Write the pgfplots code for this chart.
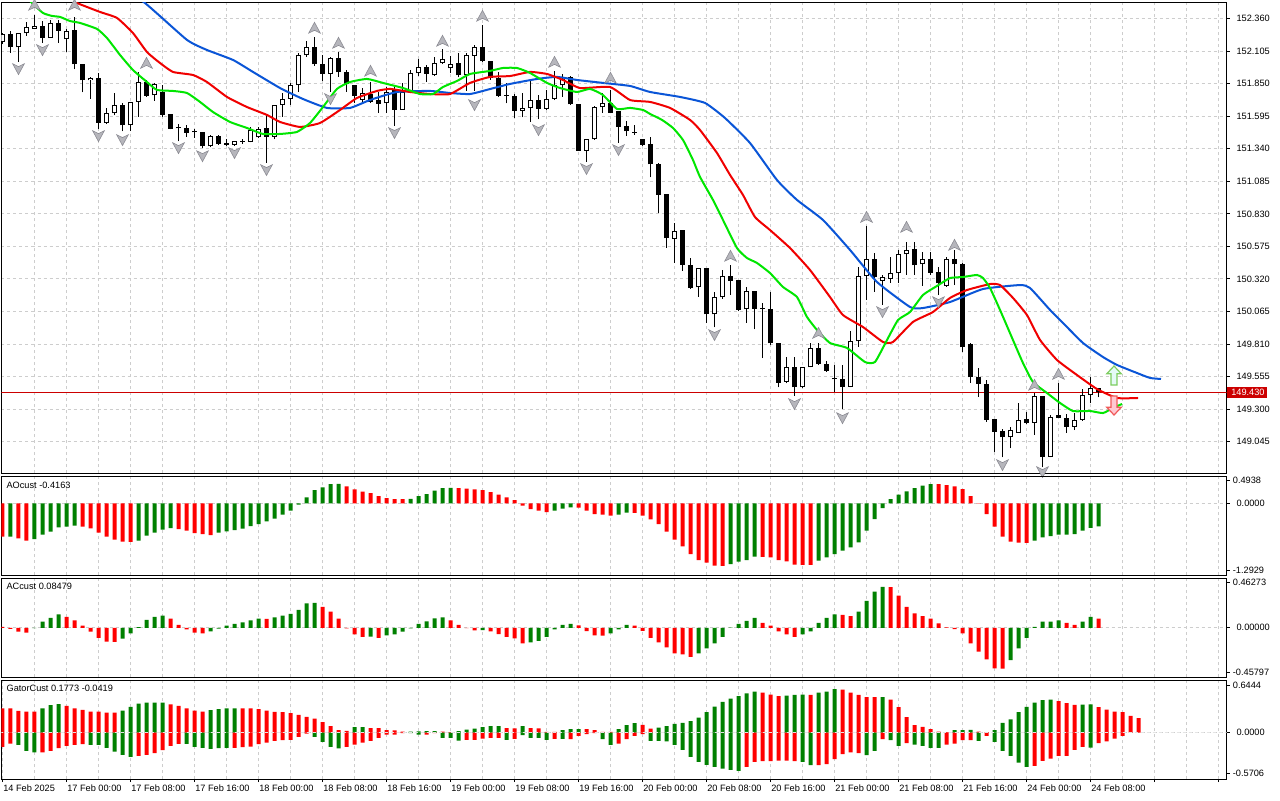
\documentclass[border=0pt]{standalone}
\usepackage{fontspec}
\setmainfont{Liberation Sans}
\usepackage{pgfplots}
\usepackage{pgfplotstable}
\pgfplotsset{compat=1.18}
\definecolor{gridc}{RGB}{205,205,205}
\definecolor{aogreen}{RGB}{0,128,0}
\definecolor{aored}{RGB}{255,0,0}
\definecolor{jawc}{RGB}{10,85,215}
\definecolor{teethc}{RGB}{240,0,0}
\definecolor{lipsc}{RGB}{0,230,0}
\definecolor{pricered}{RGB}{204,0,0}
\definecolor{fractfill}{RGB}{182,182,188}
\definecolor{fractdraw}{RGB}{140,140,148}
\newcommand{\lab}{\fontsize{4.6pt}{5.5pt}\selectfont}

\pgfdeclareplotmark{fracup}{%
  \pgfpathmoveto{\pgfqpoint{0pt}{2.8pt}}%
  \pgfpathlineto{\pgfqpoint{2.9pt}{-2.6pt}}%
  \pgfpathlineto{\pgfqpoint{0pt}{-1.2pt}}%
  \pgfpathlineto{\pgfqpoint{-2.9pt}{-2.6pt}}%
  \pgfpathclose\pgfusepathqfillstroke}
\pgfdeclareplotmark{fracdown}{%
  \pgfpathmoveto{\pgfqpoint{0pt}{-2.8pt}}%
  \pgfpathlineto{\pgfqpoint{2.9pt}{2.6pt}}%
  \pgfpathlineto{\pgfqpoint{0pt}{1.2pt}}%
  \pgfpathlineto{\pgfqpoint{-2.9pt}{2.6pt}}%
  \pgfpathclose\pgfusepathqfillstroke}
\pgfdeclareplotmark{bigup}{%
  \pgfpathmoveto{\pgfqpoint{0pt}{4.75pt}}%
  \pgfpathlineto{\pgfqpoint{3.6pt}{0.9pt}}%
  \pgfpathlineto{\pgfqpoint{1.5pt}{0.9pt}}%
  \pgfpathlineto{\pgfqpoint{1.5pt}{-4.75pt}}%
  \pgfpathlineto{\pgfqpoint{-1.5pt}{-4.75pt}}%
  \pgfpathlineto{\pgfqpoint{-1.5pt}{0.9pt}}%
  \pgfpathlineto{\pgfqpoint{-3.6pt}{0.9pt}}%
  \pgfpathclose\pgfusepathqfillstroke}
\pgfdeclareplotmark{bigdown}{%
  \pgfpathmoveto{\pgfqpoint{0pt}{-4.75pt}}%
  \pgfpathlineto{\pgfqpoint{3.6pt}{-0.9pt}}%
  \pgfpathlineto{\pgfqpoint{1.5pt}{-0.9pt}}%
  \pgfpathlineto{\pgfqpoint{1.5pt}{4.75pt}}%
  \pgfpathlineto{\pgfqpoint{-1.5pt}{4.75pt}}%
  \pgfpathlineto{\pgfqpoint{-1.5pt}{-0.9pt}}%
  \pgfpathlineto{\pgfqpoint{-3.6pt}{-0.9pt}}%
  \pgfpathclose\pgfusepathqfillstroke}

\pgfplotstableread{
i o h l c
0 152.174 152.250 152.160 152.237
1 152.240 152.266 152.093 152.135
2 152.135 152.245 152.023 152.245
3 152.245 152.334 152.224 152.292
4 152.281 152.388 152.276 152.302
5 152.302 152.344 152.172 152.206
6 152.206 152.349 152.206 152.323
7 152.323 152.349 152.172 152.266
8 152.198 152.281 152.101 152.266
9 152.271 152.370 151.963 152.002
10 152.004 152.004 151.782 151.876
11 151.876 151.905 151.733 151.895
12 151.895 151.937 151.498 151.545
13 151.545 151.657 151.534 151.618
14 151.618 151.775 151.602 151.681
15 151.681 151.701 151.477 151.524
16 151.524 151.707 151.482 151.707
17 151.707 151.942 151.592 151.863
18 151.863 151.879 151.748 151.756
19 151.759 151.853 151.717 151.848
20 151.785 151.837 151.592 151.605
21 151.613 151.613 151.492 151.498
22 151.504 151.534 151.398 151.500
23 151.503 151.529 151.435 151.466
24 151.472 151.492 151.427 151.469
25 151.471 151.471 151.346 151.359
26 151.359 151.445 151.351 151.440
27 151.440 151.448 151.372 151.377
28 151.383 151.419 151.364 151.372
29 151.372 151.398 151.364 151.398
30 151.396 151.414 151.380 151.398
31 151.396 151.508 151.391 151.487
32 151.430 151.513 151.422 151.498
33 151.503 151.607 151.231 151.435
34 151.435 151.683 151.414 151.681
35 151.681 151.775 151.592 151.733
36 151.733 151.853 151.681 151.837
37 151.837 152.088 151.788 152.072
38 152.072 152.187 152.062 152.140
39 152.140 152.213 151.989 152.002
40 152.002 152.075 151.871 151.929
41 151.929 152.062 151.788 152.049
42 152.049 152.101 151.905 151.939
43 151.939 151.957 151.788 151.848
44 151.837 151.837 151.701 151.754
45 151.722 151.814 151.696 151.780
46 151.769 151.866 151.701 151.709
47 151.722 151.788 151.623 151.691
48 151.696 151.822 151.623 151.785
49 151.801 151.822 151.519 151.644
50 151.644 151.858 151.644 151.785
51 151.785 151.957 151.775 151.931
52 151.931 152.041 151.910 151.978
53 151.978 151.994 151.866 151.926
54 151.916 152.062 151.910 152.010
55 152.010 152.119 152.004 152.041
56 151.970 152.067 151.937 152.002
57 152.010 152.088 151.900 151.916
58 151.916 152.088 151.795 152.072
59 152.067 152.151 151.795 152.135
60 152.135 152.307 152.020 152.025
61 152.025 152.025 151.879 151.892
62 151.892 151.944 151.748 151.754
63 151.757 151.853 151.696 151.754
64 151.754 151.767 151.584 151.636
65 151.636 151.780 151.586 151.657
66 151.657 151.871 151.553 151.722
67 151.722 151.764 151.571 151.652
68 151.652 151.801 151.644 151.730
69 151.730 151.952 151.722 151.837
70 151.837 151.926 151.748 151.889
71 151.900 151.910 151.683 151.688
72 151.688 151.688 151.325 151.325
73 151.325 151.414 151.239 151.414
74 151.414 151.675 151.409 151.665
75 151.665 151.780 151.623 151.701
76 151.701 151.801 151.618 151.623
77 151.639 151.639 151.388 151.513
78 151.519 151.560 151.440 151.477
79 151.468 151.526 151.448 151.466
80 151.414 151.414 151.364 151.372
81 151.378 151.435 151.116 151.218
82 151.221 151.231 150.834 150.980
83 150.986 150.986 150.565 150.638
84 150.633 150.761 150.447 150.698
85 150.703 150.703 150.385 150.432
86 150.427 150.481 150.244 150.252
87 150.254 150.403 150.181 150.403
88 150.406 150.406 149.977 150.043
89 150.043 150.220 149.941 150.176
90 150.176 150.390 150.163 150.343
91 150.343 150.427 150.197 150.306
92 150.312 150.312 150.066 150.077
93 150.082 150.254 149.977 150.223
94 150.223 150.228 149.925 150.087
95 150.088 150.134 149.700 150.085
96 150.082 150.215 149.800 149.815
97 149.815 149.815 149.470 149.507
98 149.515 149.706 149.502 149.633
99 149.633 149.706 149.403 149.470
100 149.470 149.633 149.463 149.627
101 149.627 149.821 149.627 149.776
102 149.776 149.821 149.646 149.653
103 149.653 149.679 149.593 149.601
104 149.534 149.646 149.437 149.532
105 149.533 149.646 149.298 149.476
106 149.476 149.909 149.470 149.831
107 149.831 150.416 149.789 150.343
108 150.343 150.735 150.155 150.474
109 150.474 150.526 150.220 150.338
110 150.306 150.348 150.116 150.338
111 150.322 150.489 150.291 150.364
112 150.364 150.547 150.291 150.513
113 150.513 150.612 150.351 150.547
114 150.552 150.612 150.351 150.427
115 150.434 150.534 150.265 150.474
116 150.474 150.534 150.351 150.369
117 150.374 150.416 150.194 150.286
118 150.265 150.489 150.259 150.474
119 150.474 150.547 150.272 150.434
120 150.437 150.442 149.750 149.784
121 149.810 149.815 149.507 149.549
122 149.549 149.619 149.397 149.497
123 149.497 149.528 149.201 149.214
124 149.220 149.220 148.966 149.123
125 149.128 149.141 148.922 149.079
126 149.079 149.162 148.992 149.136
127 149.115 149.345 149.115 149.214
128 149.222 149.280 149.183 149.194
129 149.194 149.429 149.097 149.403
130 149.403 149.403 148.843 148.927
131 148.927 149.254 148.922 149.241
132 149.254 149.502 149.228 149.233
133 149.228 149.259 149.115 149.162
134 149.162 149.267 149.136 149.214
135 149.214 149.455 149.209 149.410
136 149.410 149.549 149.345 149.468
137 149.463 149.463 149.392 149.430
}\candles

\pgfplotstableread{
i p
13.44 152.663
17.81 152.482
23.06 152.193
25.56 152.114
28.81 152.036
31.31 151.942
34.69 151.816
37.56 151.730
40.56 151.660
43.44 151.660
45.94 151.722
49.31 151.785
53.44 151.793
55.94 151.777
58.44 151.769
60.94 151.808
63.44 151.848
66.81 151.887
69.31 151.903
71.81 151.879
75.06 151.856
78.44 151.832
80.94 151.785
84.69 151.746
87.81 151.699
90.31 151.581
93.44 151.385
96.81 151.095
99.31 150.939
102.56 150.782
105.94 150.547
109.31 150.296
113.44 150.100
115.06 150.092
118.44 150.139
122.56 150.241
127.19 150.272
128.44 150.249
130.94 150.077
132.56 149.975
135.06 149.818
137.56 149.708
139.31 149.646
141.80 149.583
143.44 149.544
144.81 149.536
}\jaw

\pgfplotstableread{
i p
7.19 152.545
9.31 152.482
12.19 152.412
14.31 152.365
16.31 152.247
18.06 152.098
19.69 152.012
21.31 151.942
23.81 151.918
25.56 151.863
28.06 151.746
30.56 151.667
33.06 151.605
34.69 151.550
37.19 151.511
39.69 151.542
42.19 151.644
44.31 151.738
46.81 151.793
48.44 151.809
50.94 151.785
53.44 151.769
55.94 151.769
58.44 151.856
60.94 151.903
63.44 151.910
65.94 151.942
68.06 151.926
70.06 151.879
72.19 151.816
75.94 151.824
78.44 151.722
80.94 151.707
83.44 151.660
85.94 151.566
87.19 151.487
89.31 151.307
90.94 151.135
92.56 150.978
94.06 150.805
95.94 150.703
98.44 150.562
100.94 150.390
103.44 150.178
105.06 150.037
107.56 149.943
110.06 149.826
111.31 149.826
113.81 149.983
116.31 150.061
118.44 150.171
120.56 150.233
123.44 150.280
124.69 150.272
126.31 150.171
128.06 150.037
129.69 149.842
131.81 149.685
134.31 149.567
136.81 149.457
139.31 149.387
141.94 149.387
}\teeth

\pgfplotstableread{
i p
2.19 152.584
3.69 152.482
5.06 152.404
6.19 152.381
7.19 152.373
8.44 152.341
9.69 152.326
11.81 152.279
13.06 152.208
14.69 152.075
16.31 151.957
18.06 151.863
19.31 151.801
21.31 151.793
23.06 151.777
24.69 151.707
26.31 151.628
28.44 151.550
30.56 151.503
32.56 151.456
34.69 151.456
36.81 151.472
38.44 151.542
40.06 151.667
41.81 151.809
43.44 151.863
45.56 151.887
47.56 151.856
50.06 151.816
52.19 151.769
53.81 151.769
55.06 151.824
56.81 151.871
58.44 151.926
60.94 151.950
62.56 151.973
64.31 151.973
65.94 151.934
68.06 151.856
69.69 151.816
71.81 151.785
73.44 151.809
75.06 151.761
76.81 151.652
78.44 151.660
80.06 151.644
80.94 151.613
82.44 151.566
83.81 151.503
85.06 151.409
86.31 151.252
87.19 151.119
88.81 150.939
90.06 150.782
91.81 150.562
93.06 150.484
94.31 150.445
95.94 150.366
97.56 150.257
99.31 150.178
100.56 150.022
101.81 149.920
103.44 149.818
105.56 149.779
107.81 149.669
109.06 149.669
110.56 149.841
111.94 149.998
113.44 150.061
115.06 150.194
116.81 150.265
118.44 150.327
120.06 150.335
121.81 150.351
122.56 150.327
123.44 150.249
124.69 150.077
126.31 149.841
127.56 149.661
128.81 149.512
130.56 149.426
132.19 149.348
133.81 149.285
135.94 149.285
137.56 149.269
138.81 149.309
139.94 149.340
}\lips

\pgfplotstableread{
i v g
0 -0.602 0
1 -0.598 1
2 -0.632 0
3 -0.674 0
4 -0.644 1
5 -0.566 1
6 -0.511 1
7 -0.433 1
8 -0.421 1
9 -0.403 1
10 -0.421 0
11 -0.451 0
12 -0.529 0
13 -0.602 0
14 -0.656 0
15 -0.692 0
16 -0.695 0
17 -0.674 1
18 -0.584 1
19 -0.529 1
20 -0.475 1
21 -0.445 1
22 -0.463 0
23 -0.493 0
24 -0.535 0
25 -0.554 0
26 -0.572 0
27 -0.529 1
28 -0.505 1
29 -0.481 1
30 -0.457 1
31 -0.409 1
32 -0.373 1
33 -0.325 1
34 -0.277 1
35 -0.205 1
36 -0.132 1
37 -0.024 1
38 0.108 1
39 0.241 1
40 0.289 1
41 0.349 1
42 0.352 1
43 0.307 0
44 0.253 0
45 0.211 0
46 0.187 0
47 0.132 0
48 0.096 0
49 0.078 0
50 0.076 0
51 0.080 1
52 0.132 1
53 0.168 1
54 0.229 1
55 0.277 1
56 0.279 1
57 0.276 0
58 0.265 0
59 0.253 0
60 0.241 0
61 0.205 0
62 0.156 0
63 0.108 0
64 0.060 0
65 -0.042 0
66 -0.102 0
67 -0.132 0
68 -0.156 0
69 -0.132 1
70 -0.096 1
71 -0.072 1
72 -0.075 0
73 -0.132 0
74 -0.193 0
75 -0.205 0
76 -0.223 0
77 -0.205 1
78 -0.168 1
79 -0.170 0
80 -0.223 0
81 -0.289 0
82 -0.373 0
83 -0.511 0
84 -0.656 0
85 -0.776 0
86 -0.915 0
87 -1.023 0
88 -1.071 0
89 -1.125 0
90 -1.128 0
91 -1.095 1
92 -1.053 1
93 -1.023 1
94 -0.963 1
95 -0.965 0
96 -0.975 0
97 -1.023 0
98 -1.047 0
99 -1.107 0
100 -1.110 0
101 -1.112 0
102 -1.035 1
103 -0.975 1
104 -0.915 1
105 -0.854 1
106 -0.794 1
107 -0.704 1
108 -0.493 1
109 -0.283 1
110 -0.084 1
111 0.078 1
112 0.156 1
113 0.217 1
114 0.277 1
115 0.319 1
116 0.349 1
117 0.347 0
118 0.331 0
119 0.307 0
120 0.259 0
121 0.132 0
122 0.006 0
123 -0.193 0
124 -0.421 0
125 -0.602 0
126 -0.692 0
127 -0.710 0
128 -0.712 0
129 -0.674 1
130 -0.614 1
131 -0.590 1
132 -0.566 1
133 -0.564 1
134 -0.554 1
135 -0.493 1
136 -0.440 1
137 -0.4163 1
}\aodata

\pgfplotstableread{
i v g
0 0.008 0
1 -0.010 0
2 -0.037 0
3 -0.046 0
4 -0.004 1
5 0.056 1
6 0.093 1
7 0.124 1
8 0.102 0
9 0.068 0
10 0.019 0
11 -0.037 0
12 -0.093 0
13 -0.130 0
14 -0.132 0
15 -0.102 1
16 -0.053 1
17 0.005 1
18 0.074 1
19 0.102 1
20 0.112 1
21 0.084 0
22 0.028 0
23 -0.015 0
24 -0.046 0
25 -0.053 0
26 -0.034 1
27 -0.009 1
28 0.019 1
29 0.037 1
30 0.050 1
31 0.068 1
32 0.084 1
33 0.083 0
34 0.096 1
35 0.112 1
36 0.130 1
37 0.167 1
38 0.226 1
39 0.232 1
40 0.195 0
41 0.149 0
42 0.084 0
43 -0.005 0
44 -0.062 0
45 -0.084 0
46 -0.082 1
47 -0.093 0
48 -0.071 1
49 -0.062 1
50 -0.037 1
51 -0.006 1
52 0.037 1
53 0.059 1
54 0.087 1
55 0.096 1
56 0.068 0
57 0.028 0
58 -0.004 0
59 -0.025 0
60 -0.022 1
61 -0.034 0
62 -0.059 0
63 -0.084 0
64 -0.099 0
65 -0.146 0
66 -0.136 1
67 -0.121 1
68 -0.084 1
69 -0.015 1
70 0.028 1
71 0.037 1
72 0.022 0
73 -0.031 0
74 -0.071 0
75 -0.073 0
76 -0.053 1
77 -0.015 1
78 0.028 1
79 0.019 0
80 -0.028 0
81 -0.093 0
82 -0.136 0
83 -0.183 0
84 -0.239 0
85 -0.248 0
86 -0.270 0
87 -0.239 1
88 -0.192 1
89 -0.146 1
90 -0.084 1
91 0.002 1
92 0.037 1
93 0.065 1
94 0.093 1
95 0.046 0
96 0.019 0
97 -0.034 0
98 -0.062 0
99 -0.084 0
100 -0.062 1
101 -0.034 1
102 0.046 1
103 0.093 1
104 0.124 1
105 0.121 0
106 0.108 0
107 0.149 1
108 0.251 1
109 0.335 1
110 0.381 1
111 0.378 0
112 0.298 0
113 0.195 0
114 0.133 0
115 0.108 0
116 0.084 0
117 0.040 0
118 0.003 0
119 -0.012 0
120 -0.053 0
121 -0.146 0
122 -0.223 0
123 -0.294 0
124 -0.378 0
125 -0.380 0
126 -0.301 1
127 -0.192 1
128 -0.093 1
129 0.009 1
130 0.056 1
131 0.058 1
132 0.068 1
133 0.046 0
134 0.028 0
135 0.056 1
136 0.102 1
137 0.08479 0
}\acdata

\pgfplotstableread{
i v g
0 0.295 0
1 0.295 0
2 0.266 0
3 0.258 0
4 0.258 0
5 0.295 1
6 0.336 1
7 0.348 1
8 0.327 0
9 0.295 0
10 0.278 0
11 0.258 0
12 0.258 0
13 0.245 0
14 0.245 0
15 0.270 1
16 0.315 1
17 0.356 1
18 0.368 1
19 0.368 1
20 0.368 1
21 0.344 0
22 0.327 0
23 0.295 0
24 0.270 0
25 0.258 0
26 0.274 1
27 0.286 1
28 0.295 1
29 0.295 1
30 0.295 0
31 0.295 0
32 0.286 0
33 0.270 0
34 0.254 0
35 0.250 0
36 0.237 0
37 0.217 0
38 0.192 0
39 0.172 0
40 0.127 0
41 0.078 0
42 0.029 0
43 0.020 0
44 0.065 1
45 0.065 1
46 0.053 0
47 0.053 0
48 0.029 0
49 0.025 0
50 0.010 0
51 0.012 1
52 0.014 1
53 0.016 1
54 0.018 1
55 0.010 0
56 0.006 0
57 0.016 1
58 0.037 1
59 0.049 1
60 0.065 1
61 0.078 1
62 0.079 1
63 0.053 0
64 0.052 0
65 0.078 1
66 0.053 0
67 0.052 0
68 0.008 0
69 0.007 0
70 0.029 1
71 0.041 1
72 0.042 1
73 0.041 0
74 0.029 0
75 0.008 0
76 0.007 0
77 0.041 1
78 0.090 1
79 0.115 1
80 0.094 0
81 0.049 0
82 0.061 1
83 0.078 1
84 0.106 1
85 0.119 1
86 0.139 1
87 0.184 1
88 0.250 1
89 0.319 1
90 0.376 1
91 0.417 1
92 0.446 1
93 0.479 1
94 0.503 1
95 0.491 0
96 0.466 0
97 0.446 0
98 0.454 1
99 0.462 1
100 0.466 1
101 0.462 0
102 0.491 1
103 0.503 1
104 0.532 1
105 0.528 0
106 0.491 0
107 0.462 0
108 0.434 0
109 0.433 0
110 0.435 1
111 0.405 0
112 0.311 0
113 0.188 0
114 0.090 0
115 0.070 0
116 0.041 0
117 0.012 0
118 0.004 0
119 0.029 1
120 0.030 1
121 0.031 1
122 0.012 0
123 0.004 0
124 0.029 1
125 0.119 1
126 0.160 1
127 0.250 1
128 0.315 1
129 0.368 1
130 0.397 1
131 0.405 1
132 0.385 0
133 0.360 0
134 0.340 0
135 0.342 1
136 0.344 1
137 0.311 0
138 0.282 0
139 0.258 0
140 0.250 0
141 0.205 0
142 0.1773 0
}\gatorup

\pgfplotstableread{
i v g
0 -0.176 0
1 -0.135 0
2 -0.151 1
3 -0.225 1
4 -0.245 1
5 -0.245 0
6 -0.225 0
7 -0.192 0
8 -0.164 0
9 -0.151 0
10 -0.143 0
11 -0.151 1
12 -0.151 1
13 -0.188 1
14 -0.233 1
15 -0.274 1
16 -0.299 1
17 -0.286 0
18 -0.274 0
19 -0.254 0
20 -0.217 0
21 -0.164 0
22 -0.139 0
23 -0.139 1
24 -0.176 1
25 -0.188 1
26 -0.200 1
27 -0.192 1
28 -0.188 1
29 -0.188 0
30 -0.180 0
31 -0.172 0
32 -0.143 0
33 -0.123 0
34 -0.102 0
35 -0.094 0
36 -0.090 0
37 -0.053 0
38 -0.012 0
39 -0.053 1
40 -0.115 1
41 -0.176 1
42 -0.196 1
43 -0.176 0
44 -0.147 0
45 -0.123 0
46 -0.102 0
47 -0.065 0
48 -0.025 0
49 -0.025 0
50 -0.008 0
51 -0.008 1
52 -0.025 1
53 -0.025 0
54 -0.008 0
55 -0.065 1
56 -0.065 1
57 -0.098 1
58 -0.090 0
59 -0.090 0
60 -0.074 0
61 -0.065 0
62 -0.065 0
63 -0.090 1
64 -0.078 0
65 -0.033 1
66 -0.065 1
67 -0.065 1
68 -0.090 1
69 -0.078 0
70 -0.078 1
71 -0.082 0
72 -0.041 0
73 -0.020 0
74 -0.008 0
75 -0.082 1
76 -0.151 1
77 -0.135 0
78 -0.082 0
79 -0.041 0
80 -0.020 0
81 -0.102 1
82 -0.102 1
83 -0.110 1
84 -0.151 1
85 -0.213 1
86 -0.299 1
87 -0.360 1
88 -0.397 1
89 -0.421 1
90 -0.442 1
91 -0.458 1
92 -0.471 1
93 -0.421 0
94 -0.360 0
95 -0.352 0
96 -0.352 0
97 -0.344 0
98 -0.344 0
99 -0.352 0
100 -0.360 1
101 -0.401 1
102 -0.401 0
103 -0.389 0
104 -0.327 0
105 -0.266 0
106 -0.245 0
107 -0.254 0
108 -0.278 1
109 -0.225 1
110 -0.082 0
111 -0.094 1
112 -0.164 1
113 -0.131 0
114 -0.147 1
115 -0.164 1
116 -0.188 1
117 -0.188 1
118 -0.147 0
119 -0.135 0
120 -0.094 0
121 -0.094 0
122 -0.102 1
123 -0.041 0
124 -0.115 1
125 -0.225 1
126 -0.286 1
127 -0.368 1
128 -0.421 1
129 -0.409 0
130 -0.348 0
131 -0.319 0
132 -0.286 0
133 -0.286 0
134 -0.213 0
135 -0.176 0
136 -0.184 1
137 -0.131 0
138 -0.110 0
139 -0.074 0
140 -0.0419 0
}\gatordn

\pgfplotsset{
  mtpane/.style={
    scale only axis, width=612.5pt, xmin=-0.125, xmax=153,
    axis line style={line width=0.5pt, black},
    xtick={4,8,...,152}, xticklabels={}, xtick style={draw=none},
    xmajorgrids, ymajorgrids,
    grid style={dash pattern=on 1.5pt off 1.5pt, line width=0.5pt, color=gridc},
    ytick pos=right, yticklabel pos=right, tick align=outside,
    ytick style={black, line width=0.5pt}, major tick length=1.5pt,
    tick label style={font=\lab, black},
    clip mode=individual,
  },
  histbar/.style={ybar, bar width=2pt, bar shift=0pt, draw=none},
  candlebar/.style={draw=none, mark=none, forget plot,
    error bars/y dir=plus, error bars/y explicit, error bars/error mark=none},
}

\begin{document}
\begin{tikzpicture}
\path[use as bounding box] (0,0) rectangle (640pt,-400pt);
\fill[white] (0,0) rectangle (640pt,-400pt);

% ---------------- main price pane ----------------
\begin{axis}[mtpane, at={(0.75pt,-1pt)}, anchor=north west, height=235.5pt,
  ymin=148.799, ymax=152.490,
  ytick={149.045,149.300,149.555,149.810,150.065,150.320,150.575,150.830,151.085,151.340,151.595,151.850,152.105,152.360},
  yticklabels={149.045,149.300,149.555,149.810,150.065,150.320,150.575,150.830,151.085,151.340,151.595,151.850,152.105,152.360},
]
\addplot[pricered, line width=0.5pt] coordinates {(-1,149.430) (154,149.430)};
% wicks
\addplot[candlebar, error bars/error bar style={draw=black, line width=0.5pt}]
  table[x=i, y=l, y error plus expr={\thisrow{h}-\thisrow{l}}] {\candles};
% bodies
\addplot[candlebar, error bars/error bar style={draw=black, line width=2.5pt}]
  table[x=i, y expr={min(\thisrow{o},\thisrow{c})}, y error plus expr={max(abs(\thisrow{c}-\thisrow{o}),0.0079)}] {\candles};
% white interiors of rising candles
\addplot[candlebar, restrict expr to domain={\thisrow{c}-\thisrow{o}}{0.0158:10},
  error bars/error bar style={draw=white, line width=1.5pt}]
  table[x=i, y expr={\thisrow{o}+0.0079}, y error plus expr={\thisrow{c}-\thisrow{o}-0.0158}] {\candles};
% alligator
\addplot[jawc, line width=1pt, smooth, tension=0.3] table[x=i, y=p] {\jaw};
\addplot[teethc, line width=1pt, smooth, tension=0.3] table[x=i, y=p] {\teeth};
\addplot[lipsc, line width=1pt, smooth, tension=0.3] table[x=i, y=p] {\lips};
% fractals
\addplot[only marks, mark=fracup, mark options={fill=fractfill, draw=fractdraw, line width=0.3pt}] coordinates {
(4,152.467) (9,152.467) (18,152.012) (39,152.287) (42,152.169) (46,151.950) (55,152.185) (60,152.381) (69,152.020) (76,151.895) (91,150.500) (102,149.896) (108,150.805) (113,150.727) (119,150.586) (129,149.489) (132,149.575)};
\addplot[only marks, mark=fracdown, mark options={fill=fractfill, draw=fractdraw, line width=0.3pt}] coordinates {
(2,151.965) (5,152.114) (12,151.440) (15,151.409) (22,151.346) (25,151.283) (29,151.307) (33,151.174) (41,151.730) (49,151.464) (59,151.683) (67,151.487) (73,151.182) (77,151.331) (89,149.881) (99,149.340) (105,149.230) (110,150.061) (117,150.139) (125,148.862) (130,148.807)};
% signal arrows
\addplot[only marks, mark=bigup, mark options={fill={rgb,255:red,228;green,250;blue,246}, draw={rgb,255:red,125;green,205;blue,95}, line width=0.6pt}] coordinates {(138.94,149.563)};
\addplot[only marks, mark=bigdown, mark options={fill={rgb,255:red,255;green,200;blue,210}, draw={rgb,255:red,240;green,90;blue,90}, line width=0.6pt}] coordinates {(138.94,149.328)};
\node[fill=pricered, text=white, font=\lab, inner sep=0pt, minimum width=20pt, minimum height=5.3pt, anchor=west] at (axis cs:153,149.430) {\hspace{1pt}149.430};
\end{axis}

% ---------------- AO pane ----------------
\begin{axis}[mtpane, at={(0.75pt,-238pt)}, anchor=north west, height=49.5pt,
  ymin=-1.2929, ymax=0.4938, ytick={0}, yticklabels={0.0000},
  after end axis/.code={
    \node[anchor=west, font=\lab, inner sep=0pt] at ([xshift=2.35pt, yshift=-4.5pt]rel axis cs:0,1) {AOcust -0.4163};
    \draw[line width=0.5pt] ([yshift=-2pt]rel axis cs:1,1) -- ++(1.5pt,0);
    \draw[line width=0.5pt] ([yshift=2.5pt]rel axis cs:1,0) -- ++(1.5pt,0);
    \node[anchor=west, font=\lab, inner sep=0pt] at ([xshift=3pt, yshift=-2pt]rel axis cs:1,1) {0.4938};
    \node[anchor=west, font=\lab, inner sep=0pt] at ([xshift=3pt, yshift=2.5pt]rel axis cs:1,0) {-1.2929};
  }]
\addplot[histbar, fill=aogreen, restrict expr to domain={\thisrow{g}}{0.5:1.5}] table[x=i, y=v] {\aodata};
\addplot[histbar, fill=aored, restrict expr to domain={\thisrow{g}}{-0.5:0.5}] table[x=i, y=v] {\aodata};
\end{axis}

% ---------------- AC pane ----------------
\begin{axis}[mtpane, at={(0.75pt,-289pt)}, anchor=north west, height=49.5pt,
  ymin=-0.45797, ymax=0.46273, ytick={0}, yticklabels={0.00000},
  after end axis/.code={
    \node[anchor=west, font=\lab, inner sep=0pt] at ([xshift=2.35pt, yshift=-4.35pt]rel axis cs:0,1) {ACcust 0.08479};
    \draw[line width=0.5pt] ([yshift=-2pt]rel axis cs:1,1) -- ++(1.5pt,0);
    \draw[line width=0.5pt] ([yshift=2.5pt]rel axis cs:1,0) -- ++(1.5pt,0);
    \node[anchor=west, font=\lab, inner sep=0pt] at ([xshift=3pt, yshift=-2pt]rel axis cs:1,1) {0.46273};
    \node[anchor=west, font=\lab, inner sep=0pt] at ([xshift=3pt, yshift=2.5pt]rel axis cs:1,0) {-0.45797};
  }]
\addplot[histbar, fill=aogreen, restrict expr to domain={\thisrow{g}}{0.5:1.5}] table[x=i, y=v] {\acdata};
\addplot[histbar, fill=aored, restrict expr to domain={\thisrow{g}}{-0.5:0.5}] table[x=i, y=v] {\acdata};
\end{axis}

% ---------------- Gator pane ----------------
\begin{axis}[mtpane, at={(0.75pt,-340pt)}, anchor=north west, height=49.5pt,
  ymin=-0.5706, ymax=0.6444, ytick={0}, yticklabels={0.0000},
  xtick={0,8,...,152},
  xticklabels={14 Feb 2025,17 Feb 00:00,17 Feb 08:00,17 Feb 16:00,18 Feb 00:00,18 Feb 08:00,18 Feb 16:00,19 Feb 00:00,19 Feb 08:00,19 Feb 16:00,20 Feb 00:00,20 Feb 08:00,20 Feb 16:00,21 Feb 00:00,21 Feb 08:00,21 Feb 16:00,24 Feb 00:00,24 Feb 08:00,,},
  xtick style={draw=black, line width=0.5pt}, xtick pos=bottom,
  minor xtick={4,12,...,148}, xminorgrids,
  minor grid style={dash pattern=on 1.5pt off 1.5pt, line width=0.5pt, color=gridc},
  minor tick length=0pt,
  xticklabel style={anchor=north west, inner sep=0pt, xshift=0.2pt, yshift=-1.2pt},
  after end axis/.code={
    \node[anchor=west, font=\lab, inner sep=0pt] at ([xshift=2.35pt, yshift=-4.35pt]rel axis cs:0,1) {GatorCust 0.1773 -0.0419};
    \draw[line width=0.5pt] ([yshift=-2.5pt]rel axis cs:1,1) -- ++(1.5pt,0);
    \draw[line width=0.5pt] ([yshift=2.6pt]rel axis cs:1,0) -- ++(1.5pt,0);
    \node[anchor=west, font=\lab, inner sep=0pt] at ([xshift=3pt, yshift=-2.5pt]rel axis cs:1,1) {0.6444};
    \node[anchor=west, font=\lab, inner sep=0pt] at ([xshift=3pt, yshift=2.6pt]rel axis cs:1,0) {-0.5706};
  }]
\addplot[histbar, fill=aogreen, restrict expr to domain={\thisrow{g}}{0.5:1.5}] table[x=i, y=v] {\gatorup};
\addplot[histbar, fill=aored, restrict expr to domain={\thisrow{g}}{-0.5:0.5}] table[x=i, y=v] {\gatorup};
\addplot[histbar, fill=aogreen, restrict expr to domain={\thisrow{g}}{0.5:1.5}] table[x=i, y=v] {\gatordn};
\addplot[histbar, fill=aored, restrict expr to domain={\thisrow{g}}{-0.5:0.5}] table[x=i, y=v] {\gatordn};
\addplot[dash pattern=on 1.5pt off 1.5pt, line width=0.5pt, color={rgb,255:red,228;green,228;blue,228}] coordinates {(-1,0) (154,0)};
\end{axis}
\end{tikzpicture}
\end{document}
